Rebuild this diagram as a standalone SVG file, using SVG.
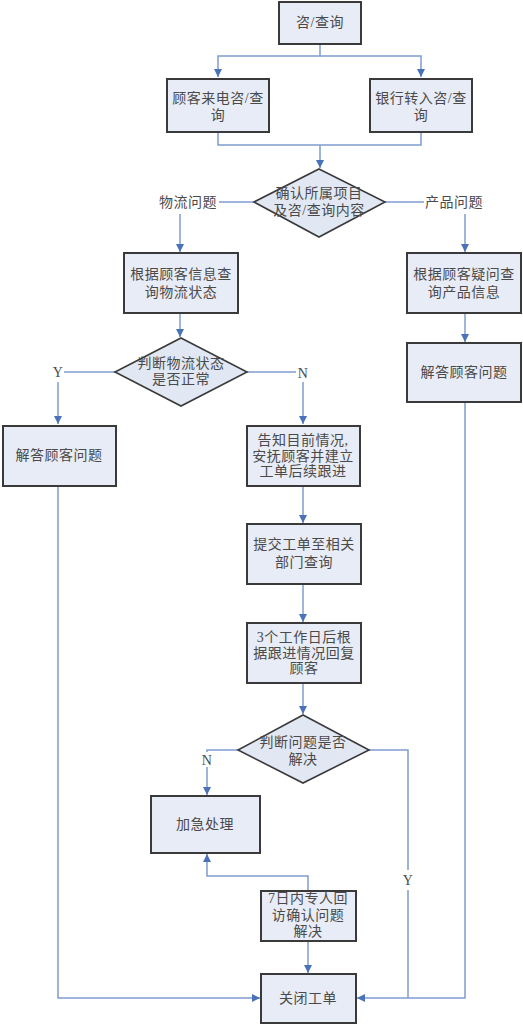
<svg xmlns="http://www.w3.org/2000/svg" width="523" height="1024" viewBox="0 0 523 1024">
<defs>
<marker id="ah" markerWidth="10" markerHeight="10" refX="9" refY="5" orient="auto" markerUnits="userSpaceOnUse">
<path d="M1,1 L9,5 L1,9 Z" fill="#4a72b8"/>
</marker>
<style>
.box{fill:#e8ecf6;stroke:#3a3a3a;stroke-width:2}
.dia{fill:#e2e8f3;stroke:#3a3a3a;stroke-width:1.6}
.t{font-family:"Liberation Serif","Noto Sans CJK SC",serif;font-size:14px;fill:#4a4a4a;text-anchor:middle;dominant-baseline:central;letter-spacing:0.5px}
.c{fill:none;stroke:#7f9ccf;stroke-width:1.5}
.a{marker-end:url(#ah)}
</style>
</defs>
<rect width="523" height="1024" fill="#ffffff"/>
<g id="connectors">
<path class="c" d="M320,44 V56 H218 V77" marker-end="url(#ah)"/>
<path class="c" d="M320,56 H421 V77" marker-end="url(#ah)"/>
<path class="c" d="M218,132 V145 H421 V132"/>
<path class="c" d="M320,145 V168" marker-end="url(#ah)"/>
<path class="c" d="M254,202 H219"/>
<path class="c" d="M180,214 V252" marker-end="url(#ah)"/>
<path class="c" d="M385,202 H424"/>
<path class="c" d="M465,214 V252" marker-end="url(#ah)"/>
<path class="c" d="M180,313 V337" marker-end="url(#ah)"/>
<path class="c" d="M465,313 V342" marker-end="url(#ah)"/>
<path class="c" d="M115,372 H64"/>
<path class="c" d="M58,382 V424" marker-end="url(#ah)"/>
<path class="c" d="M247,372 H296"/>
<path class="c" d="M303,382 V424" marker-end="url(#ah)"/>
<path class="c" d="M303,486 V523" marker-end="url(#ah)"/>
<path class="c" d="M303,584 V622" marker-end="url(#ah)"/>
<path class="c" d="M303,683 V714" marker-end="url(#ah)"/>
<path class="c" d="M238,750 H207 V752"/>
<path class="c" d="M207,767 V795" marker-end="url(#ah)"/>
<path class="c" d="M369,750 H408 V870"/>
<path class="c" d="M408,890 V998"/>
<path class="c" d="M308,891 V876 H207 V854" marker-end="url(#ah)"/>
<path class="c" d="M308,941 V973" marker-end="url(#ah)"/>
<path class="c" d="M58,486 V998 H260" marker-end="url(#ah)"/>
<path class="c" d="M465,402 V998 H357" marker-end="url(#ah)"/>
<text class="t" x="188" y="202">物流问题</text>
<text class="t" x="454" y="202">产品问题</text>
<text class="t" x="58" y="372">Y</text>
<text class="t" x="303" y="373">N</text>
<text class="t" x="207" y="760">N</text>
<text class="t" x="408" y="880">Y</text>
</g>
<g id="n1"><rect class="box" x="279" y="2" width="82" height="42"/><text class="t" x="320" y="22">咨/查询</text></g>
<g id="n2"><rect class="box" x="167" y="79" width="102" height="53"/><text class="t" x="218" y="98">顾客来电咨/查</text><text class="t" x="218" y="115">询</text></g>
<g id="n3"><rect class="box" x="370" y="79" width="102" height="53"/><text class="t" x="421" y="98">银行转入咨/查</text><text class="t" x="421" y="115">询</text></g>
<g id="n4"><polygon class="dia" points="319,169 385,202 319,237 254,202"/><text class="t" x="319" y="193">确认所属项目</text><text class="t" x="319" y="210">及咨/查询内容</text></g>
<g id="n5"><rect class="box" x="124" y="253" width="114" height="60"/><text class="t" x="181" y="274">根据顾客信息查</text><text class="t" x="181" y="292">询物流状态</text></g>
<g id="n6"><rect class="box" x="407" y="253" width="114" height="60"/><text class="t" x="464" y="274">根据顾客疑问查</text><text class="t" x="464" y="292">询产品信息</text></g>
<g id="n7"><polygon class="dia" points="181,338 247,372 181,406 115,372"/><text class="t" x="181" y="363">判断物流状态</text><text class="t" x="181" y="379">是否正常</text></g>
<g id="n8"><rect class="box" x="407" y="343" width="114" height="59"/><text class="t" x="464" y="372">解答顾客问题</text></g>
<g id="n9"><rect class="box" x="3" y="426" width="113" height="60"/><text class="t" x="59" y="455">解答顾客问题</text></g>
<g id="n10"><rect class="box" x="247" y="426" width="113" height="60"/><text class="t" x="303" y="440">告知目前情况,</text><text class="t" x="303" y="456">安抚顾客并建立</text><text class="t" x="303" y="471">工单后续跟进</text></g>
<g id="n11"><rect class="box" x="247" y="524" width="114" height="60"/><text class="t" x="304" y="544">提交工单至相关</text><text class="t" x="304" y="562">部门查询</text></g>
<g id="n12"><rect class="box" x="247" y="623" width="114" height="60"/><text class="t" x="304" y="637">3个工作日后根</text><text class="t" x="304" y="653">据跟进情况回复</text><text class="t" x="304" y="668">顾客</text></g>
<g id="n13"><polygon class="dia" points="303,715 369,750 303,783 238,750"/><text class="t" x="303" y="742">判断问题是否</text><text class="t" x="303" y="759">解决</text></g>
<g id="n14"><rect class="box" x="151" y="796" width="109" height="57"/><text class="t" x="205" y="824">加急处理</text></g>
<g id="n15"><rect class="box" x="261" y="891" width="95" height="50"/><text class="t" x="308" y="898">7日内专人回</text><text class="t" x="308" y="915">访确认问题</text><text class="t" x="308" y="931">解决</text></g>
<g id="n16"><rect class="box" x="261" y="974" width="95" height="49"/><text class="t" x="308" y="998">关闭工单</text></g>
</svg>
